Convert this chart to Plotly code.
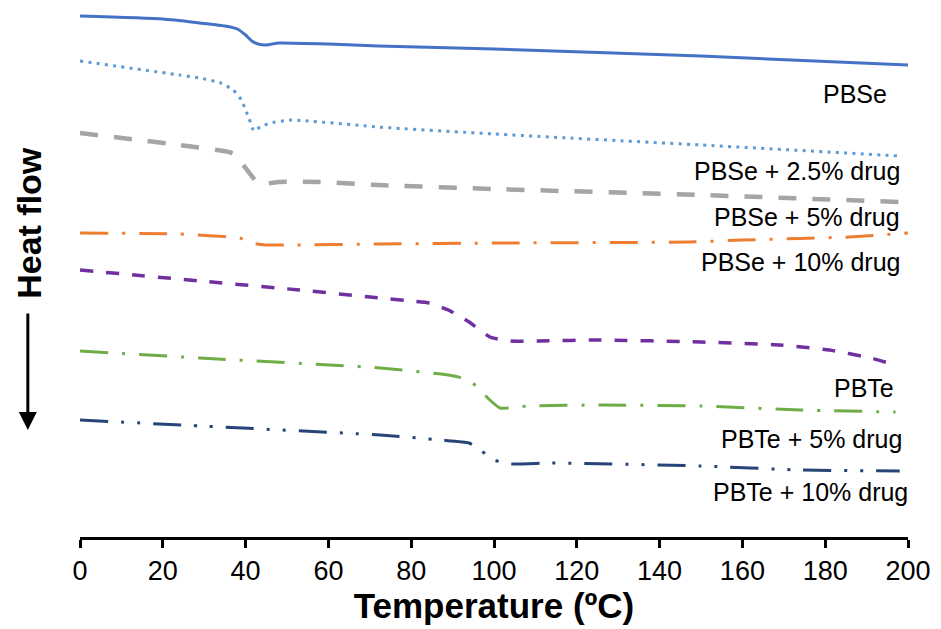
import plotly.graph_objects as go

# Temperature (ºC) sample points and heat flow (arbitrary units, higher = up)
pbse_T = [0, 20, 35, 38, 40, 41.5, 43, 45, 48, 60, 72, 100, 150, 200]
pbse_H = [521, 518, 511, 508, 502, 496, 493, 492, 494, 493, 491, 488, 481, 472]

pbse25_T = [0, 24, 29, 34, 37, 39, 40, 40.8, 42, 43.5, 46, 51, 72, 100, 150, 198]
pbse25_H = [476, 462, 459, 454, 447, 437, 427, 419, 406, 410, 414, 417, 410, 403, 392, 381]

pbse5_T = [0, 24, 36, 37.5, 40, 42.3, 44, 48, 58, 72, 100, 150, 198]
pbse5_H = [404, 392, 385, 382, 369, 357, 353, 355, 355, 352, 348, 342, 335]

pbse10_T = [0, 24, 38.6, 41.5, 44.7, 51, 72, 100, 147, 160, 174, 186, 200]
pbse10_H = [304, 303, 299, 294, 292, 292, 293, 294, 295, 297, 298.5, 300, 304]

pbte_T = [0, 29, 53, 72.5, 80, 84.5, 89, 94, 99, 104, 111, 125.6, 150, 169, 181, 191, 197]
pbte_H = [267, 256, 247, 239, 236, 234, 227, 215, 200, 196, 196, 197, 195, 192, 187, 179, 172]

pbte5_T = [0, 29, 72.5, 89, 94, 96.6, 99, 101.4, 104, 108, 126, 150, 174, 197]
pbte5_H = [186, 179, 169, 162, 157, 147, 137, 129, 129, 131, 132, 131, 127, 125]

pbte10_T = [0, 29, 72.5, 87, 94, 97, 100, 104, 114, 150, 174, 198]
pbte10_H = [117, 111, 102, 97, 94, 86, 77, 73, 74, 71, 67, 66]

series = [
    ("PBSe", pbse_T, pbse_H, "#4472C4", "solid", 3),
    ("PBSe + 2.5% drug", pbse25_T, pbse25_H, "#5B9BD5", "3px,5.3px", 3),
    ("PBSe + 5% drug", pbse5_T, pbse5_H, "#A5A5A5", "18px,16px", 4.5),
    ("PBSe + 10% drug", pbse10_T, pbse10_H, "#ED7D31", "28px,14px,3px,14px", 3),
    ("PBTe", pbte_T, pbte_H, "#7030A0", "13px,13px", 3.5),
    ("PBTe + 5% drug", pbte5_T, pbte5_H, "#70AD47", "28px,14px,3px,14px", 3),
    ("PBTe + 10% drug", pbte10_T, pbte10_H, "#264478", "28px,13px,3px,13px,3px,13px", 3),
]

# label positions: (right-edge temperature, heat-flow level)
label_T = [195.5, 198.5, 198.5, 198.5, 197, 199, 200]
label_H = [443, 366, 320, 275, 149, 98, 45]

fig = go.Figure()
for name, T, H, color, dash, w in series:
    fig.add_trace(go.Scatter(
        x=T, y=H, mode="lines", name=name,
        line=dict(color=color, dash=dash, width=w, shape="spline", smoothing=0.45),
        showlegend=False,
    ))

font = "Arial, Liberation Sans, sans-serif"
for (name, *_), lt, lh in zip(series, label_T, label_H):
    fig.add_annotation(x=lt, y=lh, text=name, showarrow=False, xanchor="right",
                       yanchor="middle", xshift=(2 if name == "PBTe + 10% drug" else 0),
                       font=dict(family=font, size=25, color="black"))

# Heat flow label with downward arrow
fig.add_annotation(xref="paper", yref="y", x=-0.063, y=314, text="<b>Heat flow</b>",
                   textangle=-90, showarrow=False, xshift=-20,
                   font=dict(family=font, size=34, color="black"))
fig.add_annotation(xref="paper", yref="y", x=-0.063, y=107, ax=0, ay=-118, text="",
                   showarrow=True, arrowhead=2, arrowsize=1.2, arrowwidth=3, arrowcolor="black")

fig.update_layout(
    width=941, height=629,
    margin=dict(l=80, r=33, t=0, b=92),
    plot_bgcolor="white", paper_bgcolor="white",
    xaxis=dict(range=[0, 200], tickvals=list(range(0, 201, 20)), showgrid=False,
               zeroline=False, showline=True, linecolor="black", linewidth=3,
               ticks="outside", ticklen=8, tickwidth=3, tickcolor="black",
               tickfont=dict(family=font, size=27, color="black"),
               title=dict(text="<b>Temperature (ºC)</b>", standoff=2,
                          font=dict(family=font, size=35, color="black"))),
    yaxis=dict(range=[0, 537], visible=False),
)

fig.write_html("out.html")
